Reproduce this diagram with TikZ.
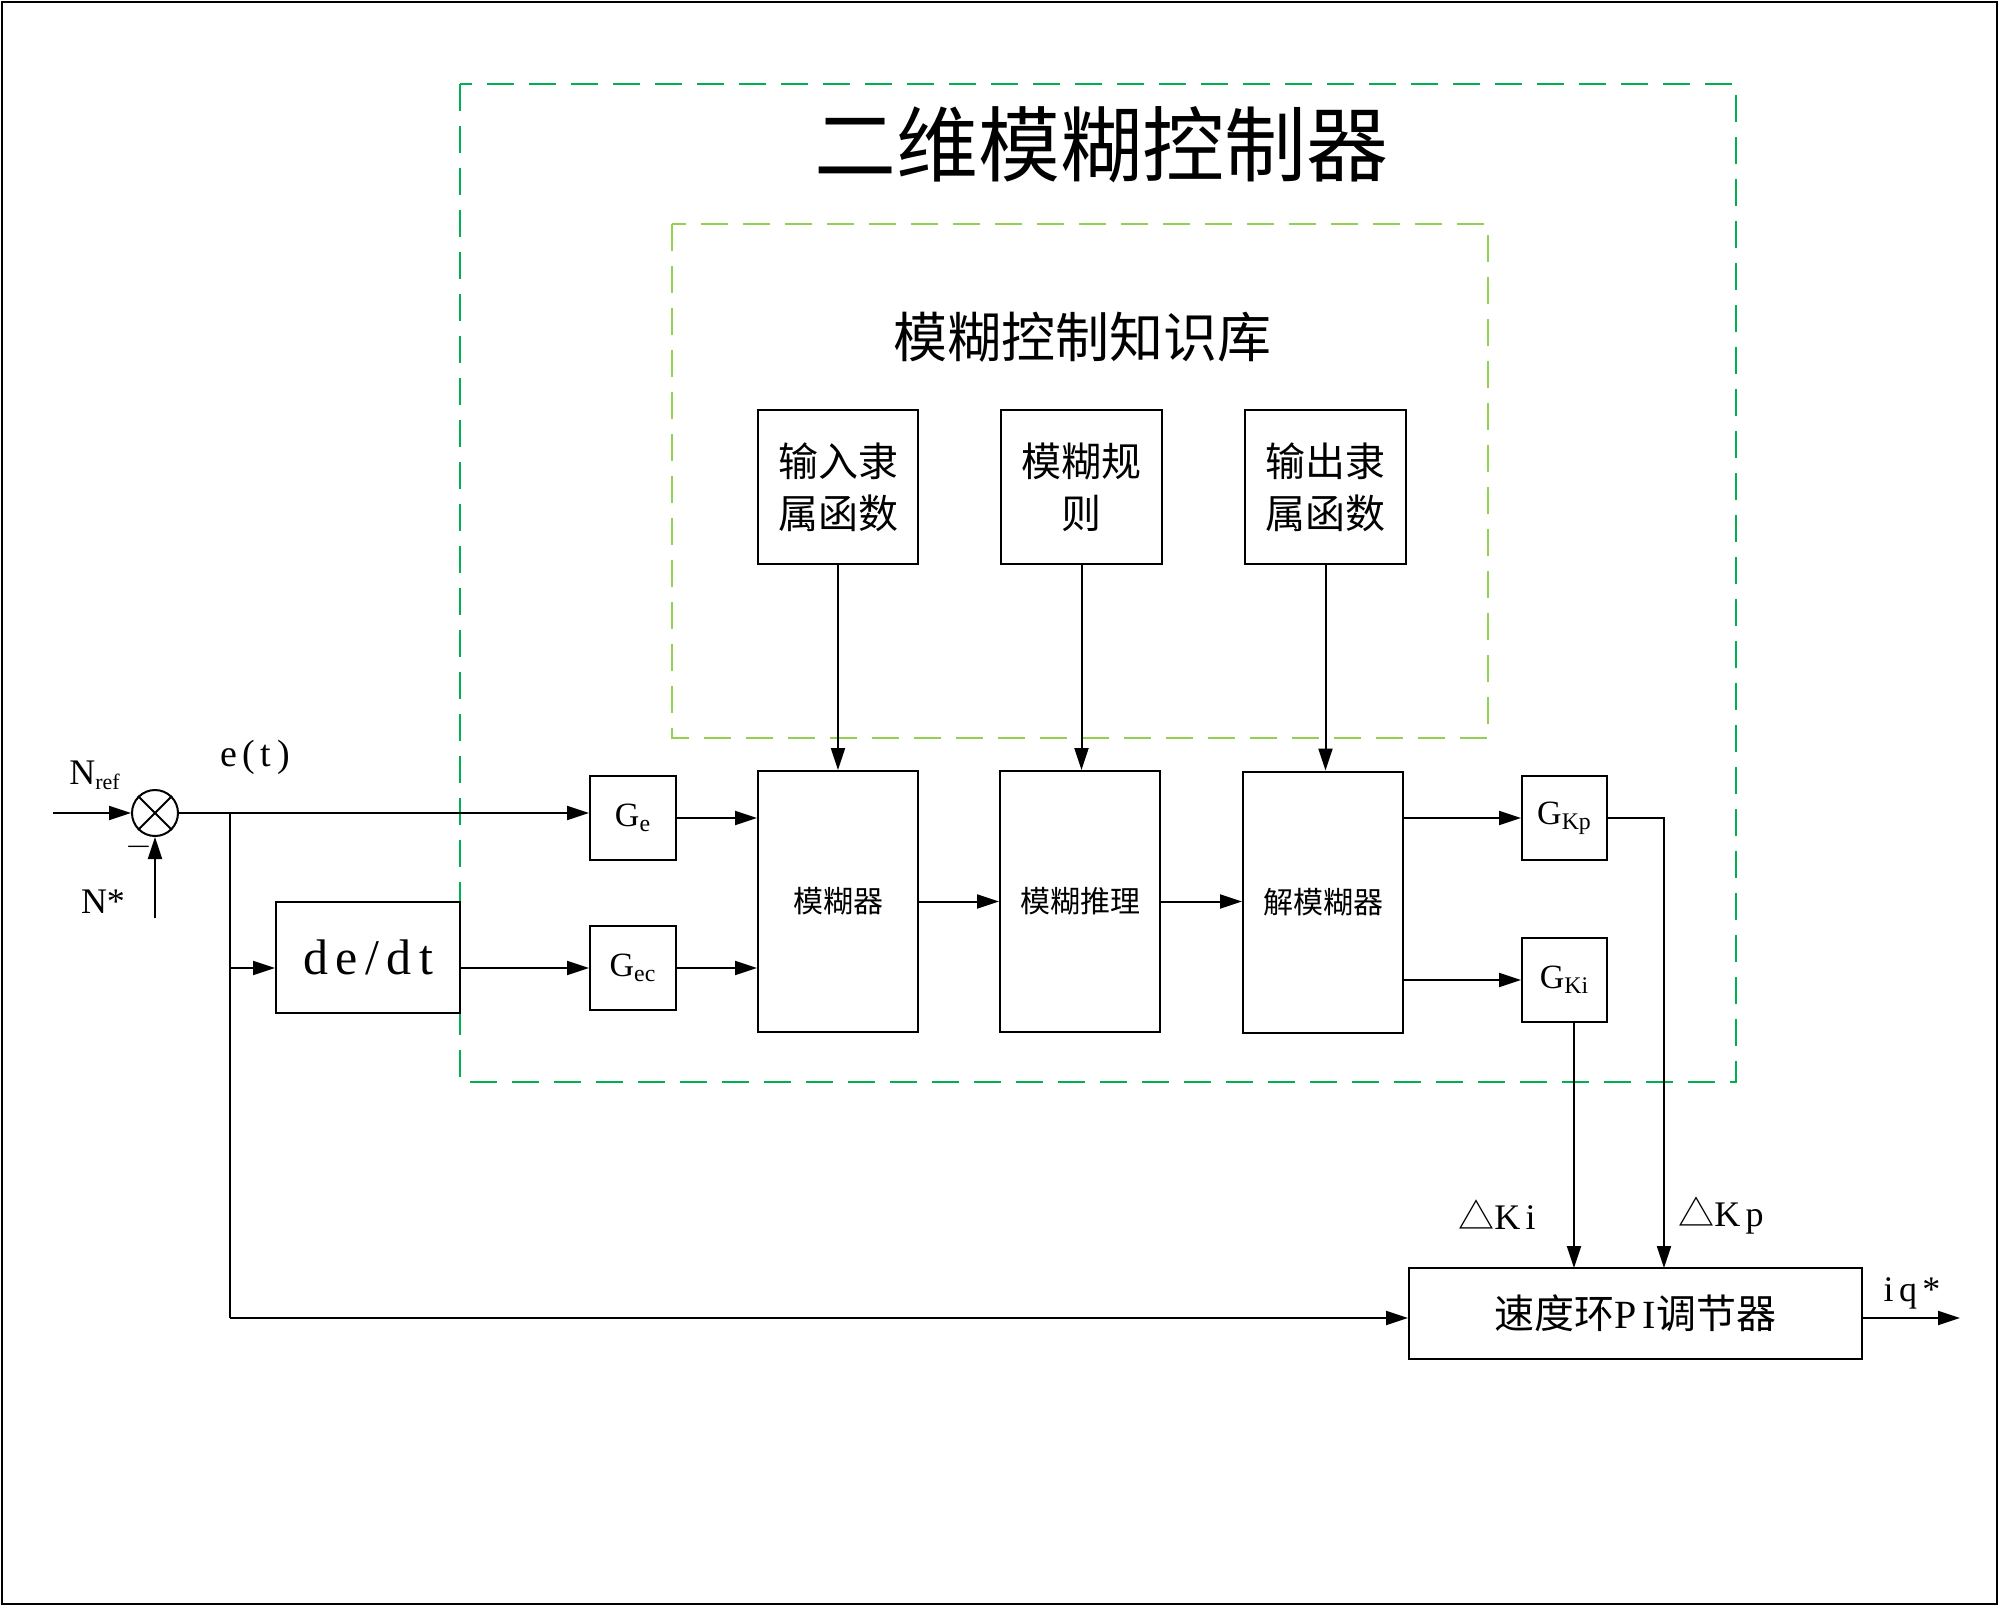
\documentclass[tikz,border=0pt]{standalone}
\usepackage{fontspec}
\setmainfont{Liberation Serif}
\newfontfamily\cjk{Noto Sans CJK SC}
\newfontfamily\lat[LetterSpace=15]{Liberation Serif}
\usetikzlibrary{arrows.meta}
\definecolor{outg}{RGB}{0,176,80}
\definecolor{ing}{RGB}{146,208,80}
\tikzset{
  blk/.style={draw, line width=1pt, inner sep=0pt, align=center},
  arr/.style={line width=1pt, -{Triangle[length=11pt,width=7pt]}},
  ln/.style={line width=1pt},
  dbox/.style={line width=1pt, dash pattern=on 13.5pt off 7.5pt},
  lbl/.style={inner sep=0pt},
}
\begin{document}
\begin{tikzpicture}[x=0.5pt,y=-0.5pt]
\useasboundingbox (0,0) rectangle (2000,1607);
% outer frame
\draw[line width=1.2pt] (2,2) rectangle (1997,1604);
% dashed boxes
\draw[dbox, outg] (460,84) rectangle (1736,1082);
\draw[dbox, ing] (672,224) rectangle (1488,738);
\node[lbl] (title) at (1101,145) {\fontsize{41pt}{49pt}\selectfont\cjk 二维模糊控制器};
\node[lbl] (kb) at (1082,337) {\fontsize{27pt}{32pt}\selectfont\cjk 模糊控制知识库};
% top boxes
\node[blk, minimum width=80pt, minimum height=77pt, font=\fontsize{20pt}{26pt}\selectfont\cjk] (in) at (838,487) {输入隶\\属函数};
\node[blk, minimum width=80.5pt, minimum height=77pt, font=\fontsize{20pt}{26pt}\selectfont\cjk] (rule) at (1081.5,487) {模糊规\\则};
\node[blk, minimum width=80.5pt, minimum height=77pt, font=\fontsize{20pt}{26pt}\selectfont\cjk] (out) at (1325.5,487) {输出隶\\属函数};
% middle boxes
\node[blk, minimum width=80pt, minimum height=130.5pt, font=\fontsize{15pt}{18pt}\selectfont\cjk] (fz) at (838,901.5) {模糊器};
\node[blk, minimum width=80pt, minimum height=130.5pt, font=\fontsize{15pt}{18pt}\selectfont\cjk] (inf) at (1080,901.5) {模糊推理};
\node[blk, minimum width=80pt, minimum height=130.5pt, font=\fontsize{15pt}{18pt}\selectfont\cjk] (dfz) at (1323,902) {解模糊器};
% gains
\node[blk, minimum width=43pt, minimum height=42pt, font=\fontsize{17pt}{20pt}\selectfont] (Ge) at (633,818) {G\textsubscript{e}};
\node[blk, minimum width=43pt, minimum height=42pt, font=\fontsize{17pt}{20pt}\selectfont] (Gec) at (633,968) {G\textsubscript{ec}};
\node[blk, minimum width=42.5pt, minimum height=42pt, font=\fontsize{17pt}{20pt}\selectfont] (GKp) at (1564.5,818) {G\textsubscript{Kp}};
\node[blk, minimum width=42.5pt, minimum height=42pt, font=\fontsize{17pt}{20pt}\selectfont] (GKi) at (1564.5,980) {G\textsubscript{Ki}};
% de/dt
\node[blk, minimum width=92pt, minimum height=55.5pt, font=\fontsize{25pt}{30pt}\lat] (dedt) at (368,957.5) {de/dt};
% PI
\node[blk, minimum width=226.5pt, minimum height=45.5pt, font=\fontsize{20pt}{24pt}\selectfont] (PI) at (1635.5,1313.5) {{\cjk 速度环}{\lat PI}{\cjk 调节器}};
% sum junction
\node[draw, circle, line width=1pt, minimum size=23pt, inner sep=0pt] (sum) at (155,813) {};
\draw[ln] (sum.north west) -- (sum.south east);
\draw[ln] (sum.north east) -- (sum.south west);
% coordinates
\coordinate (nin) at (53,813);
\coordinate (nstar) at (155,918);
\coordinate (br) at (230,813);
\coordinate (brb) at (230,1318);
\coordinate (pkp) at (1664,1268);
\coordinate (pki) at (1574,1268);
\coordinate (iq) at (1960,1318);
% labels
\node[lbl, font=\fontsize{18pt}{20pt}\selectfont] (lnref) at (95,775) {N\textsubscript{\fontsize{11pt}{12pt}\selectfont ref}};
\node[lbl, font=\fontsize{18pt}{20pt}\selectfont] (lnstar) at (103,902) {N*};
\node[lbl, font=\fontsize{16pt}{18pt}\selectfont] (lminus) at (139,847) {$-$};
\node[lbl, font=\fontsize{19pt}{22pt}\lat] (let) at (255,757) {e(t)};
\node[lbl, font=\fontsize{18pt}{20pt}\selectfont] (lki) at (1497,1215) {{\cjk △}{\lat Ki}};
\node[lbl, font=\fontsize{18pt}{20pt}\selectfont] (lkp) at (1721,1215) {{\cjk △}{\lat Kp}};
\node[lbl, font=\fontsize{18pt}{20pt}\lat] (liq) at (1912,1293) {iq*};
% connectors
\draw[arr] (nin) -- (sum.west);
\draw[arr] (nstar) -- (sum.south);
\draw[arr] (sum.east) -- (sum.east -| Ge.west);
\draw[ln] (br) -- (brb);
\draw[arr] (br |- Gec.west) -- (dedt.west |- Gec.west);
\draw[arr] (brb) -- (brb -| PI.west);
\draw[arr] (dedt.east |- Gec.west) -- (Gec.west);
\draw[arr] (Ge.east) -- (Ge.east -| fz.west);
\draw[arr] (Gec.east) -- (Gec.east -| fz.west);
\draw[arr] (in.south) -- (in.south |- fz.north);
\draw[arr] (rule.south) -- (rule.south |- inf.north);
\draw[arr] (out.south) -- (out.south |- dfz.north);
\draw[arr] (fz.east) -- (fz.east -| inf.west);
\draw[arr] (inf.east) -- (inf.east -| dfz.west);
\draw[arr] (dfz.east |- GKp.west) -- (GKp.west);
\draw[arr] (dfz.east |- GKi.west) -- (GKi.west);
\draw[arr] (GKp.east) -| (pkp);
\draw[arr] (pki |- GKi.south) -- (pki);
\draw[arr] (PI.east |- iq) -- (iq);
\end{tikzpicture}
\end{document}
